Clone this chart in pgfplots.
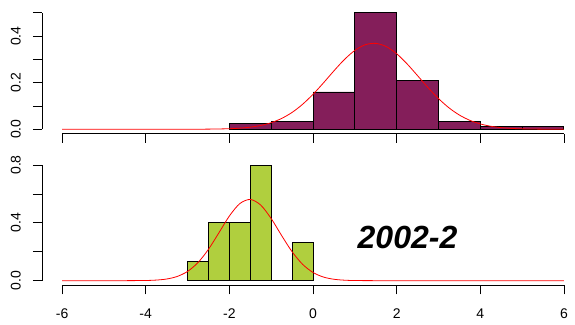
\documentclass[border=0pt]{standalone}
\usepackage{pgfplots}
\pgfplotsset{compat=1.18}
\usepackage{fontspec}
\setmainfont{Liberation Sans}
\definecolor{histpurple}{RGB}{132,30,90}
\definecolor{histgreen}{RGB}{176,207,62}
\begin{document}
\begin{tikzpicture}
\useasboundingbox (0pt,0pt) rectangle (575pt,324pt);
\pgfplotsset{
  rpanel/.style={
    scale only axis, anchor=south west,
    xmin=-6.48, xmax=6.48,
    axis line style={draw=none},
    xtick pos=left, ytick pos=left,
    tick align=outside,
    major tick length=9pt, minor tick length=9pt,
    every tick/.style={black, line width=0.8pt},
    every minor tick/.style={black, line width=0.8pt},
    xtick={-6,-4,-2,0,2,4,6},
    /pgf/number format/assume math mode=true,
    tick label style={font=\fontsize{14}{16}\selectfont},
    yticklabel style={rotate=90, anchor=south, inner sep=0pt, yshift=12pt},
    clip=false,
  }
}
% ---------- top panel ----------
\begin{axis}[rpanel,
  at={(42pt,190.1pt)}, width=542pt, height=125.8pt,
  ymin=-0.02, ymax=0.52,
  xticklabels={},
  ytick={0,0.2,0.4}, yticklabels={0.0,0.2,0.4},
  minor ytick={0.1,0.3,0.5},
]
\addplot[ybar interval, fill=histpurple, draw=black, line width=0.9pt]
  coordinates {(-2,0.023) (-1,0.034) (0,0.16) (1,0.5) (2,0.21) (3,0.034) (4,0.011) (5,0.011) (6,0.011)};
\addplot[red, line width=0.8pt, smooth] coordinates {
(-6,0) (-5,0) (-4,0) (-3,0.0001) (-2.5,0.0005) (-2,0.0022) (-1.75,0.0046) (-1.5,0.0089)
(-1.25,0.0162) (-1,0.0282) (-0.75,0.0463) (-0.5,0.0723) (-0.25,0.1069) (0,0.1499)
(0.25,0.1990) (0.5,0.2506) (0.75,0.2991) (1,0.3383) (1.25,0.3627) (1.5,0.3686)
(1.75,0.3550) (2,0.3241) (2.25,0.2805) (2.5,0.2300) (2.75,0.1788) (3,0.1318)
(3.25,0.0920) (3.5,0.0609) (3.75,0.0382) (4,0.0227) (4.25,0.0128) (4.5,0.0068)
(4.75,0.0035) (5,0.0017) (5.5,0.0003) (6,0)};
\draw[black, line width=0.8pt] (axis cs:-6.48,0) -- (axis cs:-6.48,0.5);
\draw[black, line width=0.8pt] (axis cs:-6,-0.02) -- (axis cs:6,-0.02);
\end{axis}
% ---------- bottom panel ----------
\begin{axis}[rpanel,
  at={(42pt,38.7pt)}, width=542pt, height=124.9pt,
  ymin=-0.032, ymax=0.832,
  xticklabels={-6,-4,-2,0,2,4,6},
  xticklabel style={yshift=-11pt},
  ytick={0,0.4,0.8}, yticklabels={0.0,0.4,0.8},
  minor ytick={0.2,0.6},
]
\addplot[ybar interval, fill=histgreen, draw=black, line width=0.9pt]
  coordinates {(-3,0.1333) (-2.5,0.4) (-2,0.4) (-1.5,0.8) (-1,0) (-0.5,0.2667) (0,0.2667)};
\addplot[black, line width=1.2pt] coordinates {(-1,0) (-0.5,0)};
\addplot[red, line width=0.8pt, smooth] coordinates {
(-6,0) (-5,0) (-4.5,0.0001) (-4,0.0013) (-3.75,0.0041) (-3.5,0.0115) (-3.25,0.0289)
(-3,0.0640) (-2.75,0.1253) (-2.5,0.2168) (-2.25,0.3312) (-2,0.4472) (-1.75,0.5333)
(-1.5,0.5618) (-1.25,0.5228) (-1,0.4298) (-0.75,0.3121) (-0.5,0.2002) (-0.25,0.1135)
(0,0.0568) (0.25,0.0251) (0.5,0.0098) (0.75,0.0034) (1,0.0010) (1.5,0.0001) (2,0)
(3,0) (4,0) (5,0) (6,0)};
\draw[black, line width=0.8pt] (axis cs:-6.48,0) -- (axis cs:-6.48,0.8);
\draw[black, line width=0.8pt] (axis cs:-6,-0.032) -- (axis cs:6,-0.032);
\node[font=\fontsize{32}{36}\selectfont\bfseries\itshape, anchor=base]
  at (axis cs:2.26,0.224) {2002-2};
\end{axis}
\end{tikzpicture}
\end{document}
